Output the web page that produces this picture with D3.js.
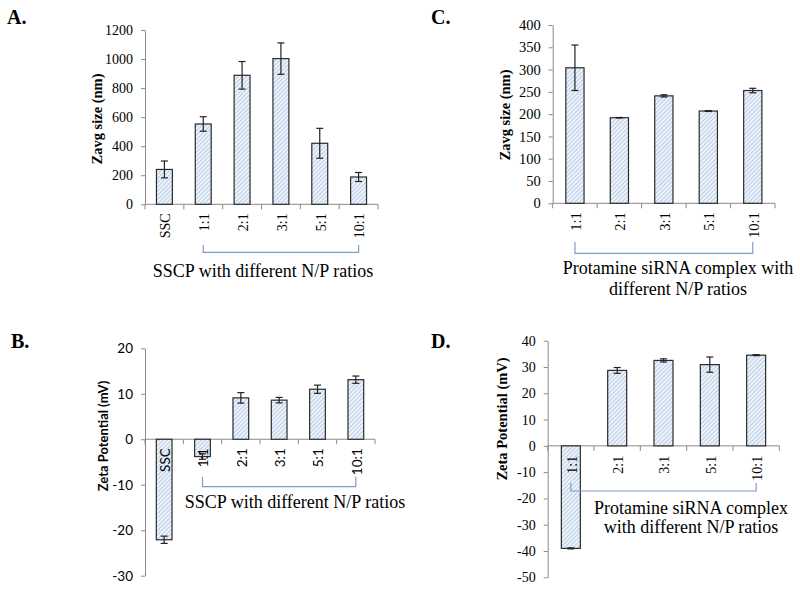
<!DOCTYPE html>
<html><head><meta charset="utf-8">
<script src="https://cdn.jsdelivr.net/npm/d3@7"></script>
<style>body{margin:0;background:#fff}</style>
</head><body><svg id="c" width="800" height="591"></svg>
<script>
// Panel A: Zavg size of SSC / SSCP
const catsA = ["SSC","1:1","2:1","3:1","5:1","10:1"];
const sizeA = [240,553,888,1003,420,188];
const sizeAErr = [58,50,95,108,103,31];
const ticksA = [0,200,400,600,800,1000,1200];
// Panel B: Zeta potential SSC / SSCP
const catsB = ["SSC","1:1","2:1","3:1","5:1","10:1"];
const zetaB = [-22.1,-3.8,9.1,8.6,11.0,13.1];
const zetaBErr = [0.8,0.6,1.15,0.6,0.9,0.8];
const ticksB = [-30,-20,-10,0,10,20];
// Panel C: Zavg size protamine siRNA
const catsC = ["1:1","2:1","3:1","5:1","10:1"];
const sizeC = [304,192,241,207,253];
const sizeCErr = [51,0.5,2.5,1,5];
const ticksC = [0,50,100,150,200,250,300,350,400];
// Panel D: Zeta potential protamine siRNA
const catsD = ["1:1","2:1","3:1","5:1","10:1"];
const zetaD = [-39.0,28.7,32.5,30.9,34.5];
const zetaDErr = [0.2,1.1,0.6,2.9,0.2];
const ticksD = [-50,-40,-30,-20,-10,0,10,20,30,40];

const svg = d3.select("#c");
const defs = svg.append("defs");
const pat = defs.append("pattern").attr("id","hatch").attr("patternUnits","userSpaceOnUse")
  .attr("width",3).attr("height",3).attr("patternTransform","rotate(45)");
pat.append("rect").attr("width",3).attr("height",3).attr("fill","#edf3fa");
pat.append("line").attr("x1",0.5).attr("y1",0).attr("x2",0.5).attr("y2",3)
  .attr("stroke","#b4c8e4").attr("stroke-width",0.9);

const SERIF = "'Liberation Serif','Times New Roman',serif";
const SANS = "Lato,'Open Sans',sans-serif";

function panel(o){
  const g = svg.append("g");
  const y = d3.scaleLinear().domain([o.ticks[0], o.ticks[o.ticks.length-1]]).range([o.bottom, o.top]);
  const x = d3.scaleBand().domain(o.cats).range([o.left, o.right]).padding(0);
  const bw = x.bandwidth()*0.41;
  const axisColor = "#8a8a8a";
  // y axis
  const ya = g.append("g").attr("transform",`translate(${o.left},0)`)
    .call(d3.axisLeft(y).tickValues(o.ticks).tickSize(4).tickSizeOuter(0).tickPadding(o.tickPad||8));
  ya.select(".domain").attr("stroke",axisColor);
  ya.selectAll(".tick line").attr("stroke",axisColor);
  ya.selectAll(".tick text").attr("font-family",o.tickFont).attr("font-size",o.tickSize).attr("fill","#000")
    .text(d=>d<0 ? "-"+Math.abs(d) : d);
  // x axis at zero
  const y0 = y(0);
  g.append("line").attr("x1",o.left).attr("x2",o.right).attr("y1",y0).attr("y2",y0).attr("stroke",axisColor);
  const edges = o.cats.map(c=>x(c)).concat([o.right]);
  g.selectAll(".xt").data(edges).join("line").attr("x1",d=>d).attr("x2",d=>d)
    .attr("y1",y0).attr("y2",y0+5).attr("stroke",axisColor);
  // bars
  g.selectAll(".bar").data(o.vals).join("rect")
    .attr("x",(d,i)=>x(o.cats[i])+x.bandwidth()/2-bw/2).attr("width",bw)
    .attr("y",d=>Math.min(y(d),y0)).attr("height",d=>Math.abs(y(d)-y0))
    .attr("fill","url(#hatch)").attr("stroke","#2b2b2b").attr("stroke-width",1.2);
  // error bars
  const eg = g.selectAll(".err").data(o.vals).join("g")
    .attr("transform",(d,i)=>`translate(${x(o.cats[i])+x.bandwidth()/2},0)`);
  eg.append("line").attr("y1",(d,i)=>y(d+o.errs[i])).attr("y2",(d,i)=>y(d-o.errs[i])).attr("stroke","#222").attr("stroke-width",1.2);
  eg.append("line").attr("x1",-3.5).attr("x2",3.5).attr("y1",(d,i)=>y(d+o.errs[i])).attr("y2",(d,i)=>y(d+o.errs[i])).attr("stroke","#222").attr("stroke-width",1.2);
  eg.append("line").attr("x1",-3.5).attr("x2",3.5).attr("y1",(d,i)=>y(d-o.errs[i])).attr("y2",(d,i)=>y(d-o.errs[i])).attr("stroke","#222").attr("stroke-width",1.2);
  // x tick labels (rotated)
  g.selectAll(".xl").data(o.cats).join("text")
    .attr("transform",d=>`translate(${x(d)+x.bandwidth()/2+1},${y0+o.xlabOff}) rotate(-90)`)
    .attr("text-anchor","end").attr("dy","0.35em")
    .attr("font-family",o.tickFont).attr("font-size",o.tickSize).attr("fill","#000").text(d=>d);
  // y title
  g.append("text").attr("transform",`translate(${o.ytX},${o.ytY}) rotate(-90)`)
    .attr("text-anchor","middle").attr("dy","0.35em")
    .attr("font-family",o.ytFont).attr("font-weight","bold").attr("font-size",o.ytSize).text(o.yTitle);
  // bracket
  const bx1 = x(o.cats[o.brFrom])+x.bandwidth()/2, bx2 = x(o.cats[o.cats.length-1])+x.bandwidth()/2;
  g.append("path").attr("d",`M${bx1},${o.brTop}V${o.brY}H${bx2}V${o.brTop}`)
    .attr("fill","none").attr("stroke","#7f9cc4").attr("stroke-width",1.2);
  o.note.forEach((t,i)=>{
    g.append("text").attr("x",o.noteX).attr("y",o.noteY+i*o.noteLH).attr("text-anchor","middle")
      .attr("font-family",SERIF).attr("font-size",18).attr("fill","#000").text(t);
  });
  // panel letter
  g.append("text").attr("x",o.letX).attr("y",o.letY).attr("font-family",SERIF).attr("font-weight","bold")
    .attr("font-size",20).text(o.letter);
}

panel({cats:catsA, vals:sizeA, errs:sizeAErr, ticks:ticksA, left:145, right:378, top:30, bottom:204.3,
  tickFont:SERIF, tickSize:14, xlabOff:9, yTitle:"Zavg size (nm)", ytX:97, ytY:119, ytFont:SERIF, ytSize:14.5,
  brFrom:1, brTop:245, brY:252.3, note:["SSCP with different N/P ratios"], noteX:263, noteY:277, noteLH:21,
  letter:"A.", letX:7, letY:24});
panel({cats:catsB, vals:zetaB, errs:zetaBErr, ticks:ticksB, left:145, right:375, top:348.3, bottom:575.7,
  tickFont:SANS, tickSize:13.5, xlabOff:9, yTitle:"Zeta Potential (mV)", ytX:103, ytY:436, ytFont:SANS, ytSize:13,
  brFrom:1, brTop:477, brY:486.7, note:["SSCP with different N/P ratios"], noteX:295, noteY:507.5, noteLH:21,
  letter:"B.", letX:11, letY:348});
panel({cats:catsC, vals:sizeC, errs:sizeCErr, ticks:ticksC, left:552.7, right:775, top:25, bottom:203.3,
  tickFont:SERIF, tickSize:14.5, xlabOff:9, yTitle:"Zavg size (nm)", ytX:505, ytY:115, ytFont:SERIF, ytSize:14.5,
  brFrom:0, brTop:242, brY:253.3, note:["Protamine siRNA complex with","different N/P ratios"], noteX:678, noteY:274, noteLH:21,
  letter:"C.", letX:431, letY:24});
panel({cats:catsD, vals:zetaD, errs:zetaDErr, ticks:ticksD, left:547.7, right:779.3, top:340.7, bottom:577.3,
  tickFont:SERIF, tickSize:14, xlabOff:10, yTitle:"Zeta Potential (mV)", ytX:502, ytY:419, ytFont:SERIF, ytSize:14.5,
  brFrom:0, brTop:483, brY:491, note:["Protamine siRNA complex","with different N/P ratios"], noteX:691, noteY:513.5, noteLH:19,
  letter:"D.", letX:431, letY:348});
</script></body></html>
